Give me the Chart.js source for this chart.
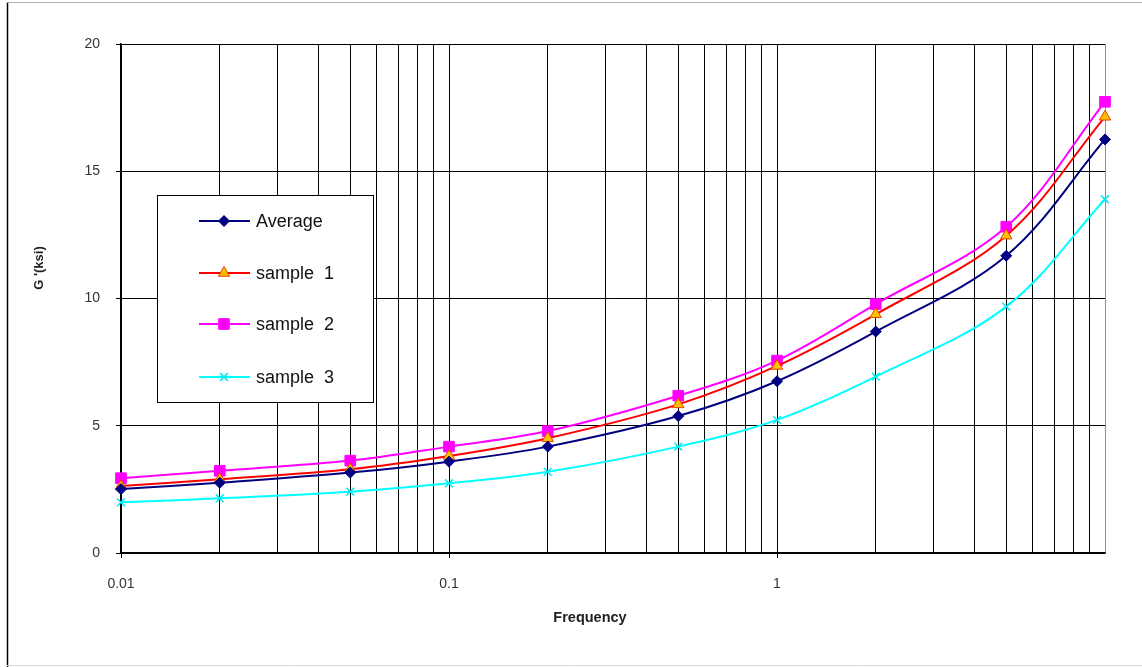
<!DOCTYPE html>
<html>
<head>
<meta charset="utf-8">
<script src="https://cdn.jsdelivr.net/npm/chart.js@4/dist/chart.umd.min.js"></script>
<style>
html,body{margin:0;padding:0;background:#fff;}
#wrap{position:relative;width:1142px;height:667px;}
canvas{display:block;}
</style>
</head>
<body>
<div id="wrap"><canvas id="c" width="1142" height="667"></canvas></div>
<script>
const frequency = [0.01, 0.02, 0.05, 0.1, 0.2, 0.5, 1, 2, 5, 10];
const average = [2.51, 2.76, 3.16, 3.59, 4.18, 5.38, 6.75, 8.70, 11.68, 16.25];
const sample1 = [2.63, 2.90, 3.29, 3.81, 4.51, 5.84, 7.35, 9.38, 12.47, 17.14];
const sample2 = [2.94, 3.23, 3.63, 4.18, 4.79, 6.18, 7.56, 9.78, 12.82, 17.73];
const sample3 = [1.99, 2.15, 2.41, 2.74, 3.19, 4.18, 5.23, 6.93, 9.68, 13.90];
const seriesNames = ['Average', 'sample  1', 'sample  2', 'sample  3'];
const xTickValues = [0.01,0.02,0.03,0.04,0.05,0.06,0.07,0.08,0.09,0.1,0.2,0.3,0.4,0.5,0.6,0.7,0.8,0.9,1,2,3,4,5,6,7,8,9,10];
const xTickLabels = {0.01:'0.01', 0.1:'0.1', 1:'1'};
const yTickValues = [0, 5, 10, 15, 20];
const xTitle = 'Frequency';
const yTitle = "G '(ksi)";

function pts(arr){ return frequency.map((f,i)=>({x:f, y:arr[i]})); }

const datasets = [
  {label: seriesNames[0], data: pts(average), borderColor:'#000080', backgroundColor:'#000080',
   pointStyle:'rectRot', pointRadius:5.5, pointBorderColor:'#000080', pointBorderWidth:1, borderWidth:2},
  {label: seriesNames[1], data: pts(sample1), borderColor:'#FF0000', backgroundColor:'#FFC000',
   pointStyle:'triangle', pointRadius:6.5, pointBorderColor:'#E84000', pointBorderWidth:1, borderWidth:2},
  {label: seriesNames[2], data: pts(sample2), borderColor:'#FF00FF', backgroundColor:'#FF00FF',
   pointStyle:'rect', pointRadius:7.5, pointBorderColor:'#FF00FF', pointBorderWidth:1, borderWidth:2},
  {label: seriesNames[3], data: pts(sample3), borderColor:'#00FFFF', backgroundColor:'#00FFFF',
   pointStyle:'crossRot', pointRadius:5.5, pointBorderColor:'#00E8F0', pointBorderWidth:1.5, borderWidth:2}
];
datasets.forEach(d=>{ d.tension = 0.35; d.fill = false; d.pointHoverRadius = d.pointRadius; d.clip = false; d.pointBackgroundColor = d.backgroundColor; });

const FONT = 'Liberation Sans, Arial, sans-serif';

const decor = {
  id:'decor',
  beforeDraw(chart){
    const ctx = chart.ctx;
    ctx.save();
    ctx.fillStyle = '#fff';
    ctx.fillRect(0,0,chart.width,chart.height);
    ctx.restore();
  },
  afterDraw(chart){
    const ctx = chart.ctx;
    ctx.save();
    // outer frame
    ctx.strokeStyle = '#000'; ctx.lineWidth = 1.5;
    ctx.beginPath(); ctx.moveTo(7.5,2); ctx.lineTo(7.5,667); ctx.stroke();
    ctx.strokeStyle = '#b0b0b0'; ctx.lineWidth = 1;
    ctx.beginPath(); ctx.moveTo(7,2.5); ctx.lineTo(1142,2.5); ctx.stroke();
    ctx.strokeStyle = '#d8d8d8';
    ctx.beginPath(); ctx.moveTo(7,665.5); ctx.lineTo(1142,665.5); ctx.stroke();
    // axis titles
    ctx.fillStyle = '#222';
    ctx.font = 'bold 14.5px ' + FONT;
    ctx.textAlign = 'center'; ctx.textBaseline = 'middle';
    ctx.fillText(xTitle, 590, 618);
    ctx.save();
    ctx.translate(39, 268);
    ctx.rotate(-Math.PI/2);
    ctx.font = 'bold 13px ' + FONT;
    ctx.fillText(yTitle, 0, 0);
    ctx.restore();
    // legend box
    const lx = 157.5, ly = 195.5, lw = 216, lh = 207;
    ctx.fillStyle = '#fff';
    ctx.fillRect(lx, ly, lw, lh);
    ctx.strokeStyle = '#000'; ctx.lineWidth = 1;
    ctx.strokeRect(lx, ly, lw, lh);
    const rows = [221, 273, 324, 377];
    chart.data.datasets.forEach((ds, i)=>{
      const y = rows[i];
      ctx.strokeStyle = ds.borderColor; ctx.lineWidth = 2;
      ctx.beginPath(); ctx.moveTo(199, y); ctx.lineTo(250, y); ctx.stroke();
      ctx.fillStyle = ds.backgroundColor;
      ctx.strokeStyle = ds.pointBorderColor;
      ctx.lineWidth = ds.pointBorderWidth;
      Chart.helpers.drawPoint(ctx, {
        pointStyle: ds.pointStyle, radius: ds.pointRadius, rotation: 0,
        borderWidth: ds.pointBorderWidth
      }, 224, y);
      ctx.fillStyle = '#111';
      ctx.font = '18px ' + FONT;
      ctx.textAlign = 'left'; ctx.textBaseline = 'middle';
      ctx.fillText(ds.label, 256, y + 1);
    });
    ctx.restore();
  }
};

new Chart(document.getElementById('c'), {
  type:'line',
  data:{datasets},
  plugins:[decor],
  options:{
    responsive:false,
    animation:false,
    devicePixelRatio:1,
    layout:{padding:{left:0, top:44, right:37, bottom:0}},
    plugins:{legend:{display:false}, tooltip:{enabled:false}, title:{display:false}},
    scales:{
      x:{
        type:'logarithmic', min:0.01, max:10,
        afterFit(s){ s.height = 114; },
        afterBuildTicks(s){ s.ticks = xTickValues.map(v=>({value:v})); },
        ticks:{
          autoSkip:false, maxRotation:0, padding:18,
          color:'#333', font:{family:FONT, size:14},
          callback(v){ return xTickLabels[v] !== undefined ? xTickLabels[v] : ''; }
        },
        grid:{
          color(c){ return c.tick && c.tick.value === 10 ? '#909090' : '#000'; },
          lineWidth:1, drawTicks:true, tickLength:5,
          tickColor(c){ return c.tick && xTickLabels[c.tick.value] !== undefined ? '#000' : 'rgba(0,0,0,0)'; }
        },
        border:{display:true, color:'#000', width:1.5}
      },
      y:{
        type:'linear', min:0, max:20,
        afterFit(s){ s.width = 121; },
        afterBuildTicks(s){ s.ticks = yTickValues.map(v=>({value:v})); },
        ticks:{padding:16, color:'#333', font:{family:FONT, size:14}},
        grid:{color:'#000', lineWidth:1, tickLength:5, tickColor:'#000'},
        border:{display:true, color:'#000', width:1.5}
      }
    }
  }
});
</script>
</body>
</html>
